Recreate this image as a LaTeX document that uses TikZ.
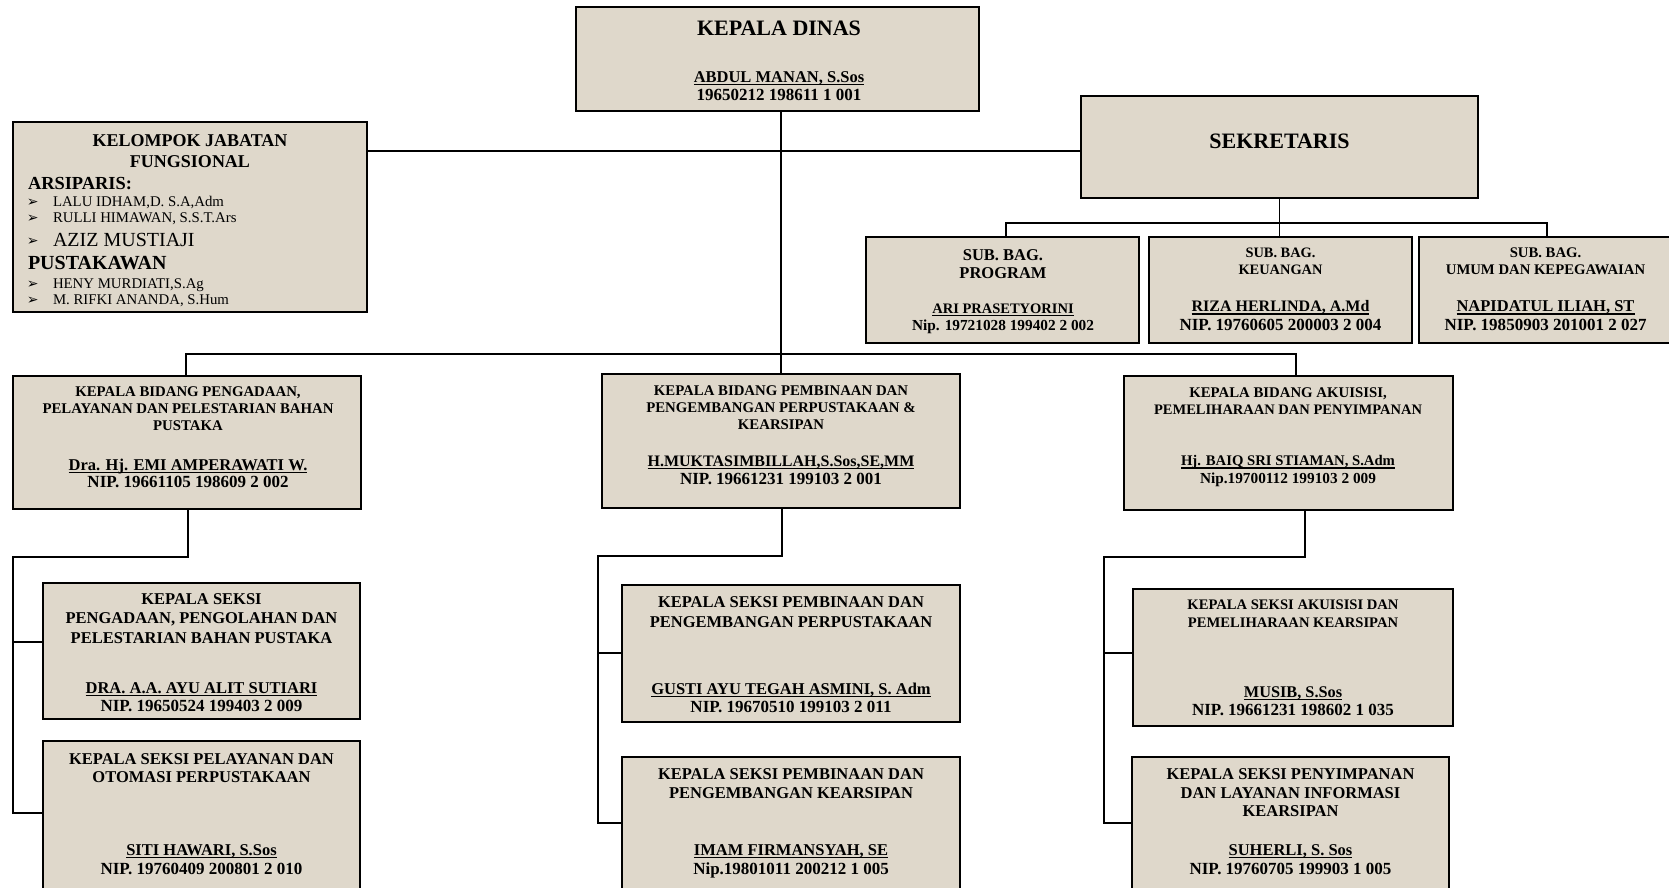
\documentclass[tikz,border=0pt]{standalone}
\usepackage{fontspec}
\setmainfont{Liberation Serif}
\newfontfamily\dejavu{DejaVu Sans}
\definecolor{paper}{RGB}{223,216,203}
\newcommand\fsz[1]{\fontsize{#1}{#1}\selectfont}
\newcommand\undl[1]{\setbox0=\hbox{#1}\rlap{\rule[-2.8pt]{\wd0}{1.3pt}}\box0}
\newcommand\Bx[5]{\node[orgbox, minimum width={#4-#2}, minimum height={#5-#3}] (#1) at ({(#2+#4)/2},{(#3+#5)/2}) {};}
\newcommand\Tx[5]{\node[lbl, font=\bfseries\fsz{#4}] (#1) at ({#2},{#3+0.33*#4}) {#5};}
\newcommand\Lx[6]{\node[lbl, anchor=base west, font=#5\fsz{#4}] (#1) at ({#2},{#3+0.33*#4}) {#6};}
\tikzset{
  orgbox/.style={draw=black, line width=1.6pt, fill=paper, rectangle, inner sep=0pt},
  lbl/.style={anchor=base, inner sep=0pt, outer sep=0pt, text=black},
  conn/.style={draw=black, line width=1.5pt}
}
\begin{document}
\begin{tikzpicture}[x=1pt,y=-1pt]
\useasboundingbox (0,0) rectangle (1669,887);
\fill[white] (0,0) rectangle (1669,887);
\begin{scope}
\clip (0,0) rectangle (1669,887);
% boxes
\Bx{kd}{576}{7}{979}{111}
\Bx{kjf}{13}{122}{367}{312}
\Bx{sek}{1081}{96}{1478}{198}
\Bx{sbp}{866}{237}{1139}{343}
\Bx{sbk}{1149}{237}{1412}{343}
\Bx{sbu}{1419}{237}{1672}{343}
\Bx{bl}{13}{376}{361}{509}
\Bx{bm}{602}{374}{960}{508}
\Bx{br}{1124}{376}{1453}{510}
\Bx{sl1}{43}{583}{360}{719}
\Bx{sl2}{43}{741}{360}{905}
\Bx{sm1}{622}{585}{960}{722}
\Bx{sm2}{622}{757}{960}{905}
\Bx{sr1}{1133}{589}{1453}{726}
\Bx{sr2}{1132}{757}{1449}{905}
% connectors
\coordinate (h1) at (0,151);
\draw[conn] (kjf.east |- h1) -- (sek.west |- h1);
\draw[conn] (kd.south -| bm.north) -- (bm.north);
\draw[conn] (sek.south) -- (sek.south |- sbk.north);
\coordinate (s0) at (1006,223);
\coordinate (s1) at (1547,223);
\draw[conn] (s0 |- sbp.north) -- (s0) -- (s1) -- (s1 |- sbu.north);
\coordinate (b0) at (186,354);
\coordinate (b1) at (1296,354);
\draw[conn] (b0 |- bl.north) -- (b0) -- (b1) -- (b1 |- br.north);
\coordinate (l0) at (188,557);
\coordinate (l1) at (13,557);
\coordinate (l2) at (13,642);
\coordinate (l3) at (13,813);
\draw[conn] (l0 |- bl.south) -- (l0) -- (l1) -- (l3) -- (l3 -| sl2.west);
\draw[conn] (l2) -- (l2 -| sl1.west);
\coordinate (m0) at (782,556);
\coordinate (m1) at (598,556);
\coordinate (m2) at (598,653);
\coordinate (m3) at (598,823);
\draw[conn] (m0 |- bm.south) -- (m0) -- (m1) -- (m3) -- (m3 -| sm2.west);
\draw[conn] (m2) -- (m2 -| sm1.west);
\coordinate (r0) at (1305,557);
\coordinate (r1) at (1104,557);
\coordinate (r2) at (1104,653);
\coordinate (r3) at (1104,823);
\draw[conn] (r0 |- br.south) -- (r0) -- (r1) -- (r3) -- (r3 -| sr2.west);
\draw[conn] (r2) -- (r2 -| sr1.west);
% Kepala Dinas
\Tx{kd1}{779}{28}{22}{KEPALA DINAS}
\Tx{kd2}{779}{77}{16.5}{\undl{ABDUL MANAN, S.Sos}}
\Tx{kd3}{779}{95}{17}{19650212 198611 1 001}
% Kelompok jabatan fungsional
\Tx{kj1}{190}{140.5}{18}{KELOMPOK JABATAN}
\Tx{kj2}{190}{162}{18}{FUNGSIONAL}
\Lx{kj3}{28}{183}{18.4}{\bfseries}{ARSIPARIS:}
\Lx{kb1}{27}{201.5}{14}{\dejavu}{➢}
\Lx{kj4}{53}{201.5}{14.8}{\mdseries}{LALU IDHAM,D. S.A,Adm}
\Lx{kb2}{27}{218}{14}{\dejavu}{➢}
\Lx{kj5}{53}{218}{14.8}{\mdseries}{RULLI HIMAWAN, S.S.T.Ars}
\Lx{kb3}{27}{240.5}{14}{\dejavu}{➢}
\Lx{kj6}{53}{239.5}{20}{\mdseries}{AZIZ MUSTIAJI}
\Lx{kj7}{28}{263}{20}{\bfseries}{PUSTAKAWAN}
\Lx{kb4}{27}{284}{14}{\dejavu}{➢}
\Lx{kj8}{53}{284}{14.8}{\mdseries}{HENY MURDIATI,S.Ag}
\Lx{kb5}{27}{299.5}{14}{\dejavu}{➢}
\Lx{kj9}{53}{299.5}{14.8}{\mdseries}{M. RIFKI ANANDA, S.Hum}
% Sekretaris
\Tx{sk1}{1279.5}{141.5}{22}{SEKRETARIS}
% Sub bag
\Tx{sp1}{1003}{255.5}{16.5}{SUB. BAG.}
\Tx{sp2}{1003}{273.5}{16.5}{PROGRAM}
\Tx{sp3}{1003}{308.5}{14.5}{\undl{ARI PRASETYORINI}}
\Tx{sp4}{1003}{325.7}{15.3}{Nip. 19721028 199402 2 002}
\Tx{sq1}{1280.5}{253}{14.4}{SUB. BAG.}
\Tx{sq2}{1280.5}{270}{14.4}{KEUANGAN}
\Tx{sq3}{1280.5}{306.5}{16}{\undl{RIZA HERLINDA, A.Md}}
\Tx{sq4}{1280.5}{324.6}{17}{NIP. 19760605 200003 2 004}
\Tx{su1}{1545.5}{253}{14.7}{SUB. BAG.}
\Tx{su2}{1545.5}{270}{14.7}{UMUM DAN KEPEGAWAIAN}
\Tx{su3}{1545.5}{306.5}{16.5}{\undl{NAPIDATUL ILIAH, ST}}
\Tx{su4}{1545.5}{324.6}{17}{NIP. 19850903 201001 2 027}
% Bidang
\Tx{bl1}{188}{392}{14.8}{KEPALA BIDANG PENGADAAN,}
\Tx{bl2}{188}{409}{14.8}{PELAYANAN DAN PELESTARIAN BAHAN}
\Tx{bl3}{188}{426}{14.8}{PUSTAKA}
\Tx{bl4}{188}{465}{16.5}{\undl{Dra. Hj. EMI AMPERAWATI W.}}
\Tx{bl5}{188}{482}{17}{NIP. 19661105 198609 2 002}
\Tx{bm1}{781}{391}{14.8}{KEPALA BIDANG PEMBINAAN DAN}
\Tx{bm2}{781}{408}{14.8}{PENGEMBANGAN PERPUSTAKAAN \&}
\Tx{bm3}{781}{425}{14.8}{KEARSIPAN}
\Tx{bm4}{781}{461}{16}{\undl{H.MUKTASIMBILLAH,S.Sos,SE,MM}}
\Tx{bm5}{781}{479}{17}{NIP. 19661231 199103 2 001}
\Tx{br1}{1288}{393}{14.8}{KEPALA BIDANG AKUISISI,}
\Tx{br2}{1288}{410}{14.5}{PEMELIHARAAN DAN PENYIMPANAN}
\Tx{br3}{1288}{461}{14.7}{\undl{Hj. BAIQ SRI STIAMAN, S.Adm}}
\Tx{br4}{1288}{478}{15.3}{Nip.19700112 199103 2 009}
% Seksi left
\Tx{la1}{201.5}{599}{16.5}{KEPALA SEKSI}
\Tx{la2}{201.5}{618}{16.5}{PENGADAAN, PENGOLAHAN DAN}
\Tx{la3}{201.5}{638}{16.5}{PELESTARIAN BAHAN PUSTAKA}
\Tx{la4}{201.5}{688}{16.5}{\undl{DRA. A.A. AYU ALIT SUTIARI}}
\Tx{la5}{201.5}{706}{17}{NIP. 19650524 199403 2 009}
\Tx{lb1}{201.5}{759}{16.5}{KEPALA SEKSI PELAYANAN DAN}
\Tx{lb2}{201.5}{777}{16.5}{OTOMASI PERPUSTAKAAN}
\Tx{lb3}{201.5}{850}{16.5}{\undl{SITI HAWARI, S.Sos}}
\Tx{lb4}{201.5}{869}{17}{NIP. 19760409 200801 2 010}
% Seksi middle
\Tx{ma1}{791}{602}{16.5}{KEPALA SEKSI PEMBINAAN DAN}
\Tx{ma2}{791}{622}{16.5}{PENGEMBANGAN PERPUSTAKAAN}
\Tx{ma3}{791}{689}{16.5}{\undl{GUSTI AYU TEGAH ASMINI, S. Adm}}
\Tx{ma4}{791}{707}{17}{NIP. 19670510 199103 2 011}
\Tx{mb1}{791}{774}{16.5}{KEPALA SEKSI PEMBINAAN  DAN}
\Tx{mb2}{791}{793}{16.5}{PENGEMBANGAN KEARSIPAN}
\Tx{mb3}{791}{850}{16.5}{\undl{IMAM FIRMANSYAH, SE}}
\Tx{mb4}{791}{869}{17}{Nip.19801011 200212 1 005}
% Seksi right
\Tx{ra1}{1293}{605}{14.6}{KEPALA SEKSI AKUISISI DAN}
\Tx{ra2}{1293}{623}{14.6}{PEMELIHARAAN KEARSIPAN}
\Tx{ra3}{1293}{692}{16.3}{\undl{MUSIB, S.Sos}}
\Tx{ra4}{1293}{710}{17}{NIP. 19661231 198602 1 035}
\Tx{rb1}{1290.5}{774}{16.5}{KEPALA SEKSI PENYIMPANAN}
\Tx{rb2}{1290.5}{793}{16.5}{DAN LAYANAN INFORMASI}
\Tx{rb3}{1290.5}{811}{16.5}{KEARSIPAN}
\Tx{rb4}{1290.5}{850}{16.5}{\undl{SUHERLI, S. Sos}}
\Tx{rb5}{1290.5}{869}{17}{NIP. 19760705 199903 1 005}
\end{scope}
\end{tikzpicture}
\end{document}
